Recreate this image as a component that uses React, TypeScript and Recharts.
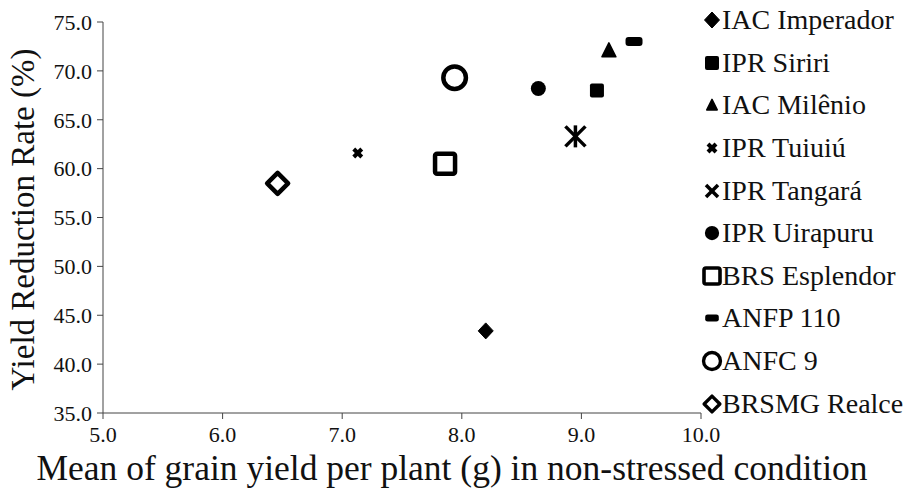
import React from 'react';
import { ScatterChart, Scatter, XAxis, YAxis, Legend } from 'recharts';

const varieties = ['IAC Imperador', 'IPR Siriri', 'IAC Milênio', 'IPR Tuiuiú', 'IPR Tangará', 'IPR Uirapuru', 'BRS Esplendor', 'ANFP 110', 'ANFC 9', 'BRSMG Realce'];
const grainYield = [8.2, 9.13, 9.23, 7.13, 8.95, 8.64, 7.86, 9.44, 7.94, 6.46];
const reductionRate = [43.4, 68.0, 72.1, 61.6, 63.3, 68.2, 60.5, 73.0, 69.3, 58.5];
const markerKinds = ['diamond', 'square', 'triangle', 'cross', 'asterisk', 'circle', 'openSquare', 'dash', 'openCircle', 'openDiamond'];
const xTicks = [5, 6, 7, 8, 9, 10];
const yTicks = [35, 40, 45, 50, 55, 60, 65, 70, 75];

const FONT = '"Liberation Serif", "Times New Roman", serif';
const INK = '#000';

function drawMarker(kind: string, cx: number, cy: number, s: number) {
  switch (kind) {
    case 'diamond':
      return <path d={`M${cx},${cy - 8 * s} L${cx + 7.5 * s},${cy} L${cx},${cy + 8 * s} L${cx - 7.5 * s},${cy} Z`} fill={INK} stroke={INK} strokeWidth={1} strokeLinejoin="round" />;
    case 'square':
      return <rect x={cx - 7 * s} y={cy - 7 * s} width={14 * s} height={14 * s} rx={2} fill={INK} />;
    case 'triangle':
      return <path d={`M${cx},${cy - 7.5 * s} L${cx + 7 * s},${cy + 6.5 * s} L${cx - 7 * s},${cy + 6.5 * s} Z`} fill={INK} stroke={INK} strokeWidth={1.5} strokeLinejoin="round" />;
    case 'cross':
      return (
        <g stroke={INK} strokeWidth={4 * s} strokeLinecap="butt">
          <line x1={cx - 4 * s} y1={cy - 4 * s} x2={cx + 4 * s} y2={cy + 4 * s} />
          <line x1={cx - 4 * s} y1={cy + 4 * s} x2={cx + 4 * s} y2={cy - 4 * s} />
        </g>
      );
    case 'asterisk':
      return (
        <g stroke={INK} strokeWidth={3.5 * s} strokeLinecap="butt">
          <line x1={cx - 10 * s} y1={cy - 10 * s} x2={cx + 10 * s} y2={cy + 10 * s} />
          <line x1={cx - 10 * s} y1={cy + 10 * s} x2={cx + 10 * s} y2={cy - 10 * s} />
          <line x1={cx} y1={cy - 11 * s} x2={cx} y2={cy + 11 * s} />
        </g>
      );
    case 'tangaraLegend':
      return (
        <g stroke={INK} strokeWidth={3.5 * s} strokeLinecap="butt">
          <line x1={cx - 6 * s} y1={cy - 6 * s} x2={cx + 6 * s} y2={cy + 6 * s} />
          <line x1={cx - 6 * s} y1={cy + 6 * s} x2={cx + 6 * s} y2={cy - 6 * s} />
        </g>
      );
    case 'circle':
      return <circle cx={cx} cy={cy} r={7.5 * s} fill={INK} />;
    case 'openSquare':
      return <rect x={cx - 10 * s} y={cy - 10 * s} width={20 * s} height={20 * s} rx={2} fill="#fff" stroke={INK} strokeWidth={4.5 * s} />;
    case 'dash':
      return <rect x={cx - 8.5 * s} y={cy - 4.5 * s} width={17 * s} height={9 * s} rx={3 * s} fill={INK} />;
    case 'openCircle':
      return <circle cx={cx} cy={cy} r={11.3 * s} fill="#fff" stroke={INK} strokeWidth={4.5 * s} />;
    case 'openDiamond':
      return <path d={`M${cx},${cy - 10.5 * s} L${cx + 10.5 * s},${cy} L${cx},${cy + 10.5 * s} L${cx - 10.5 * s},${cy} Z`} fill="#fff" stroke={INK} strokeWidth={4.5 * s} strokeLinejoin="round" />;
    default:
      return null;
  }
}

const legendScale = [1, 1, 0.75, 1, 1, 0.95, 0.8, 0.8, 0.75, 0.75];

const seriesData = varieties.map((name, i) => ({
  name,
  kind: markerKinds[i],
  data: [{ x: grainYield[i], y: reductionRate[i] }],
}));

function LegendContent() {
  return (
    <div style={{ fontFamily: FONT, fontSize: 28, color: '#111', lineHeight: 1 }}>
      {seriesData.map((s, i) => (
        <div key={s.name} style={{ display: 'flex', alignItems: 'center', height: 42.6 }}>
          <svg width={20} height={24} style={{ overflow: 'visible', flex: 'none' }}>
            {drawMarker(s.kind === 'asterisk' ? 'tangaraLegend' : s.kind, 10, 12, legendScale[i])}
          </svg>
          <span style={{ marginLeft: 0, whiteSpace: 'nowrap' }}>{s.name}</span>
        </div>
      ))}
    </div>
  );
}

export default function App() {
  return (
    <div style={{ position: 'absolute', left: 0, top: 0, background: '#fff' }}>
      <ScatterChart width={918} height={489} margin={{ top: 22, right: 7, bottom: 0, left: 0 }}>
        <XAxis
          type="number"
          dataKey="x"
          domain={[5, 10]}
          ticks={xTicks}
          tickFormatter={(v: number) => v.toFixed(1)}
          height={76}
          tickSize={6}
          tickMargin={7}
          stroke="#444"
          tick={{ fill: '#111', fontSize: 22, fontFamily: FONT }}
          allowDataOverflow
          label={{ value: 'Mean of grain yield per plant (g) in non-stressed condition', position: 'insideBottom', offset: 9, dx: 50, style: { fill: '#111', fontSize: 35.5, fontFamily: FONT } }}
        />
        <YAxis
          type="number"
          dataKey="y"
          domain={[35, 75]}
          ticks={yTicks}
          tickFormatter={(v: number) => v.toFixed(1)}
          width={103}
          tickSize={6}
          tickMargin={5}
          stroke="#444"
          tick={{ fill: '#111', fontSize: 22, fontFamily: FONT }}
          allowDataOverflow
          label={{ value: 'Yield Reduction Rate (%)', angle: -90, position: 'insideLeft', offset: 22, dy: 2, style: { textAnchor: 'middle', fill: '#111', fontSize: 33, fontFamily: FONT } }}
        />
        {seriesData.map((s) => (
          <Scatter
            key={s.name}
            name={s.name}
            data={s.data}
            isAnimationActive={false}
            shape={(p: any) => drawMarker(s.kind, p.cx, p.cy, 1)}
          />
        ))}
        <Legend
          layout="vertical"
          verticalAlign="top"
          align="right"
          width={210}
          content={() => <LegendContent />}
          wrapperStyle={{ left: 702, top: -1, width: 210 }}
        />
      </ScatterChart>
    </div>
  );
}
